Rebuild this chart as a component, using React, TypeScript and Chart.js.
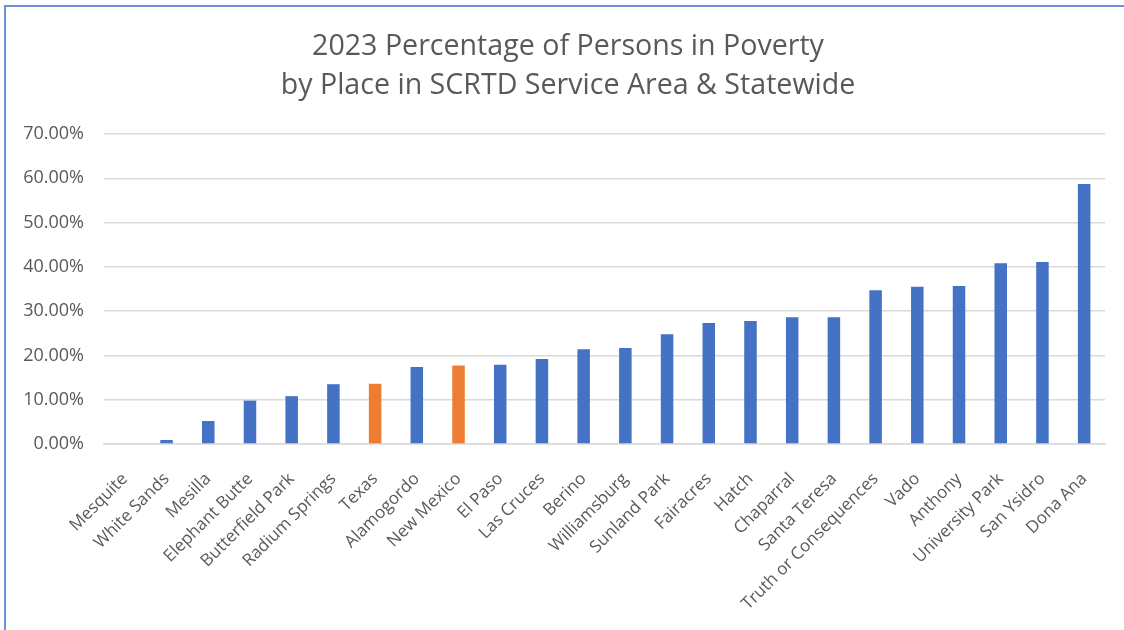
import React, { useEffect, useRef } from "react";
import { Chart, registerables } from "chart.js";

Chart.register(...registerables);

const places: string[] = [
  "Mesquite", "White Sands", "Mesilla", "Elephant Butte", "Butterfield Park", "Radium Springs",
  "Texas", "Alamogordo", "New Mexico", "El Paso", "Las Cruces", "Berino", "Williamsburg",
  "Sunland Park", "Fairacres", "Hatch", "Chaparral", "Santa Teresa", "Truth or Consequences",
  "Vado", "Anthony", "University Park", "San Ysidro", "Dona Ana",
];

const povertyRates: number[] = [
  0.0, 0.009, 0.052, 0.098, 0.108, 0.135,
  0.136, 0.174, 0.177, 0.179, 0.192, 0.214, 0.217,
  0.248, 0.273, 0.278, 0.286, 0.286, 0.347,
  0.355, 0.357, 0.408, 0.411, 0.587,
];

const statewide: string[] = ["Texas", "New Mexico"];

const titleLines: string[] = [
  "2023 Percentage of Persons in Poverty",
  "by Place in SCRTD Service Area & Statewide",
];

const yTicks: number[] = [0, 0.1, 0.2, 0.3, 0.4, 0.5, 0.6, 0.7];

const FONT = "'Open Sans', 'Noto Sans', sans-serif";
const TEXT = "#595959";

const titlePlugin = {
  id: "centeredTitle",
  afterDraw(chart: any) {
    const ctx = chart.ctx;
    ctx.save();
    ctx.fillStyle = TEXT;
    ctx.font = `normal 28.6px ${FONT}`;
    ctx.textAlign = "center";
    ctx.textBaseline = "middle";
    titleLines.forEach((line, i) => {
      ctx.fillText(line, 568, 47 + i * 39);
    });
    ctx.restore();
  },
};

export default function App() {
  const ref = useRef<HTMLCanvasElement | null>(null);

  useEffect(() => {
    if (!ref.current) return;
    const colors = places.map((p) => (statewide.includes(p) ? "#ED7D31" : "#4472C4"));
    const chart = new Chart(ref.current, {
      type: "bar",
      data: {
        labels: places,
        datasets: [
          {
            data: povertyRates,
            backgroundColor: colors,
            borderWidth: 0,
            categoryPercentage: 1,
            barPercentage: 0.3,
          },
        ],
      },
      plugins: [titlePlugin],
      options: {
        animation: false,
        responsive: false,
        maintainAspectRatio: false,
        layout: { padding: { left: 0, right: 19, top: 134, bottom: 0 } },
        plugins: {
          legend: { display: false },
          tooltip: { enabled: false },
          title: { display: false },
        },
        scales: {
          x: {
            afterFit: (scale: any) => {
              scale.height = 186;
            },
            grid: { display: false, drawTicks: false },
            border: { display: true, color: "#d9d9d9", width: 1.5 },
            ticks: {
              color: TEXT,
              font: { family: FONT, size: 17 },
              maxRotation: 45,
              minRotation: 45,
              autoSkip: false,
              padding: 25,
              labelOffset: 0,
            },
          },
          y: {
            min: 0,
            max: 0.7,
            afterFit: (scale: any) => {
              scale.width = 104;
            },
            afterBuildTicks: (scale: any) => {
              scale.ticks = yTicks.map((v) => ({ value: v }));
            },
            grid: { color: "#d9d9d9", lineWidth: 1.5, drawTicks: false },
            border: { display: false },
            ticks: {
              color: TEXT,
              font: { family: FONT, size: 18 },
              padding: 20,
              callback: (v: any) => (Number(v) * 100).toFixed(2) + "%",
            },
          },
        },
      },
    });
    return () => chart.destroy();
  }, []);

  return (
    <div style={{ position: "fixed", left: 0, top: 0, width: 1124, height: 630, background: "#fff", overflow: "hidden" }}>
      <canvas ref={ref} width={1124} height={630} style={{ position: "absolute", left: 0, top: 0 }} />
      <div
        style={{
          position: "absolute",
          left: 4,
          top: 5,
          width: 1200,
          height: 700,
          borderLeft: "2px solid #6b8fd8",
          borderTop: "2px solid #6b8fd8",
          pointerEvents: "none",
        }}
      />
    </div>
  );
}
